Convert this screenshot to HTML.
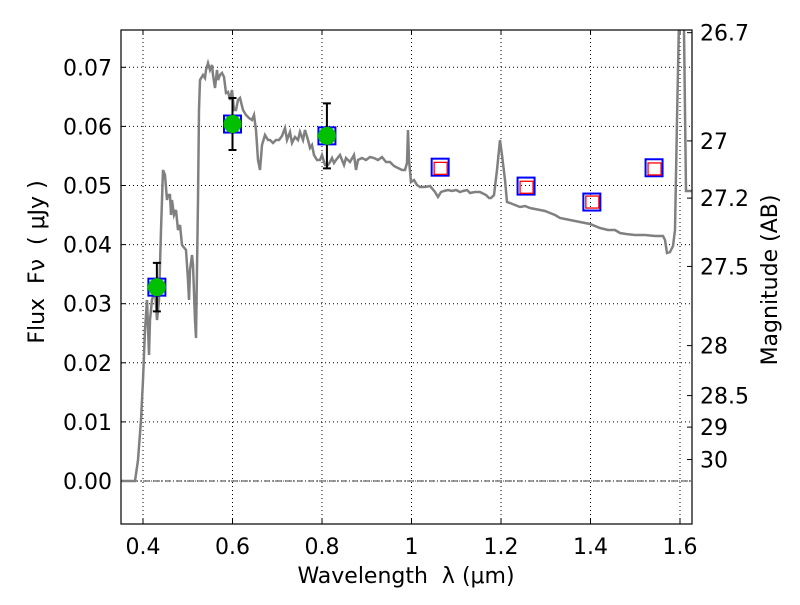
<!DOCTYPE html>
<html><head><meta charset="utf-8"><style>
body{margin:0;background:#fff}
text{font-family:"DejaVu Sans","Liberation Sans",sans-serif;fill:#000;white-space:pre}
</style></head><body>
<svg id="c" width="800" height="600" xmlns="http://www.w3.org/2000/svg"></svg>
<script>
const specX=[121,135,138,141,143,145,147,149,150,152,155,157,159,161,163,165,167,168,170,171,172,174,176,178,180,182,186,188,189,190,192,193,195,196,198,199,200,203,205,206,208,210,212,213,215,217,218,220,222,224,226,228,230,232,234,236,238,240,243,246,249,252,254,256,258,260,262,265,268,270,273,276,279,282,285,287,290,292,295,298,300,303,305,308,310,312,314,317,320,322,325,328,330,332,334,336,340,344,346,350,354,356,358,362,366,370,374,378,382,386,390,394,398,402,405,407,408,409,411,414,417,420,425,430,435,438,441,444,448,452,456,460,463,467,470,475,480,486,489,491,494,497,500,502,505,507,510,515,520,525,530,535,540,545,550,555,560,570,580,590,600,608,615,620,626,635,645,655,660,663,665,667,670,673,675,677,679];
const specY=[481,481,460,420,380,330,300,355,320,300,290,320,300,230,170,175,200,195,195,215,200,215,210,230,225,245,250,280,300,270,255,265,320,338,200,110,80,75,78,70,63,70,65,75,88,70,80,75,73,77,93,92,100,90,110,110,100,98,110,115,118,120,115,130,160,170,145,135,140,140,143,140,140,136,128,140,132,143,137,140,132,140,130,140,148,145,155,160,160,155,165,165,162,158,163,160,155,165,158,162,155,170,160,158,160,157,158,160,157,162,162,166,168,170,170,163,130,160,182,180,185,187,187,186,192,197,192,191,190,191,190,192,191,190,193,192,192,195,198,198,195,170,140,155,180,202,203,205,207,206,208,209,210,211,213,215,218,220,222,224,228,230,230,233,234,235,235,236,236,236,240,253,252,246,230,120,20];
const detLam=[0.431,0.6,0.811];
const detFlux=[0.0328,0.0604,0.0584];
const detErr=[0.0041,0.0044,0.0055];
const modLam=[0.431,0.6,0.811,1.064,1.256,1.403,1.542];
const modFlux=[0.0328,0.0604,0.0584,0.0531,0.0499,0.0472,0.0530];
const redLam=[1.064,1.256,1.403,1.542];
const redFlux=[0.0529,0.0497,0.0472,0.0528];
const xTicks=[0.4,0.6,0.8,1,1.2,1.4,1.6];
const yTicks=[0,0.01,0.02,0.03,0.04,0.05,0.06,0.07];
const magTicks=[26.7,27,27.2,27.5,28,28.5,29,30];

const L=121,R=692,T=30,B=524;
const X=v=>143+(v-0.4)*447.5;
const Y=v=>481-v*5910;
const invX=p=>0.4+(p-143)/447.5, invY=p=>(481-p)/5910;
const spec=specX.map((p,i)=>[invX(p),invY(specY[i])]);
const svg=document.getElementById('c');
const NS='http://www.w3.org/2000/svg';
function el(t,a,txt){const e=document.createElementNS(NS,t);for(const k in a)e.setAttribute(k,a[k]);if(txt!==undefined)e.textContent=txt;svg.appendChild(e);return e;}
const cp=el('clipPath',{id:'cp'});const cr=document.createElementNS(NS,'rect');cr.setAttribute('x',L);cr.setAttribute('y',T);cr.setAttribute('width',R-L);cr.setAttribute('height',B-T);cp.appendChild(cr);
const FS=22;
xTicks.forEach(v=>{const g=el('line',{x1:X(v),x2:X(v),y1:T,y2:B,stroke:'#000','stroke-width':1,'stroke-dasharray':'1,3'});


const t=el('text',{x:X(v),y:554,'font-size':FS,'text-anchor':'middle'},String(v));


el('line',{x1:X(v),x2:X(v),y1:B,y2:B-5,stroke:'#000'});el('line',{x1:X(v),x2:X(v),y1:T,y2:T+5,stroke:'#000'});});
yTicks.forEach(v=>{const g=el('line',{x1:L,x2:R,y1:Y(v),y2:Y(v),stroke:'#000','stroke-width':1,'stroke-dasharray':'1,3'});


const t=el('text',{x:112,y:Y(v)+8,'font-size':FS,'text-anchor':'end'},v.toFixed(2));


el('line',{x1:L,x2:L+5,y1:Y(v),y2:Y(v),stroke:'#000'});});
magTicks.forEach(m=>{const f=Math.pow(10,(23.9-m)/2.5);const y=Y(f);
el('line',{x1:R,x2:R-5,y1:y,y2:y,stroke:'#000'});
const t=el('text',{x:700,y:y+8,'font-size':FS},String(m));

});
const z=el('line',{x1:L,x2:R,y1:Y(0),y2:Y(0),stroke:'#000','stroke-width':0.8,'stroke-dasharray':'6,2,1,2'});


let d=spec.map((p,i)=>(i?'L':'M')+X(p[0]).toFixed(1)+','+Y(p[1]).toFixed(1)).join('');
const sp=el('path',{d:d,fill:'none',stroke:'#808080','stroke-width':2.5,'clip-path':'url(#cp)'});


const sp2=el('path',{d:'M'+X(invX(684))+','+T+'L'+X(invX(686))+','+Y(invY(191))+'L'+R+','+Y(invY(191)),fill:'none',stroke:'#808080','stroke-width':2.5,'clip-path':'url(#cp)'});


modLam.forEach((l,i)=>{const s=el('rect',{x:X(l)-8.5,y:Y(modFlux[i])-8.5,width:17,height:17,fill:'none',stroke:'#0000ff','stroke-width':2});

});
redLam.forEach((l,i)=>{const s=el('rect',{x:X(l)-6,y:Y(redFlux[i])-6,width:13,height:12,fill:'none',stroke:'#ff0000','stroke-width':1.3});

});
detLam.forEach((l,i)=>{const x=X(l),y1=Y(detFlux[i]+detErr[i]),y2=Y(detFlux[i]-detErr[i]);
const e=el('path',{d:`M${x},${y1}V${y2}M${x-4},${y1}h8M${x-4},${y2}h8`,stroke:'#000','stroke-width':2,fill:'none'});


const c=el('circle',{cx:x,cy:Y(detFlux[i]),r:9,fill:'#00c000'});

});
const fr=el('rect',{x:L,y:T,width:R-L,height:B-T,fill:'none',stroke:'#000','stroke-width':1.2});


const xl=el('text',{x:406,y:583,'font-size':FS,'text-anchor':'middle'},'Wavelength  λ (μm)');


const yl=el('text',{x:0,y:0,'font-size':FS,'text-anchor':'middle',transform:'translate(44,262) rotate(-90)'},'Flux  Fν  ( μJy )');


const ml=el('text',{x:0,y:0,'font-size':FS,'text-anchor':'middle',transform:'translate(777,280) rotate(-90)'},'Magnitude (AB)');


</script>
</body></html>
